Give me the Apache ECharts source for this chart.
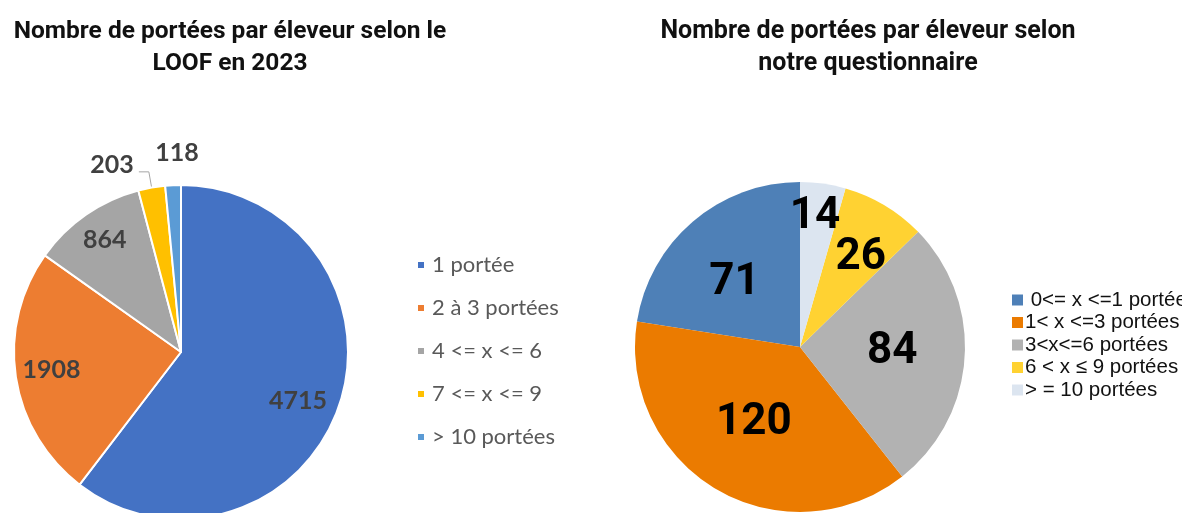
<!DOCTYPE html>
<html style="height: 100%">
<head>
    <meta charset="UTF-8">
    <title>Nombre de portées par éleveur</title>
</head>
<body style="height: 100%; margin: 0; background: #fff">
    <div id="container" style="width: 1182px; height: 513px"></div>

    <script src="https://cdn.jsdelivr.net/npm/echarts@6/dist/echarts.min.js"></script>
    <script type="text/javascript">
        // LOOF 2023
        var loofNames = ['1 portée', '2 à 3 portées', '4 <= x <= 6', '7 <= x <= 9', '> 10 portées'];
        var loofValues = [4715, 1908, 864, 203, 118];

        // questionnaire
        var questNames = [' 0<= x <=1 portée', '1< x <=3 portées', '3<x<=6 portées', '6 < x ≤ 9 portées', '> = 10 portées'];
        var questValues = [71, 120, 84, 26, 14];

        var loofColors = ['#4472C4', '#ED7D31', '#A5A5A5', '#FFC000', '#5B9BD5'];
        var questColors = ['#4E80B7', '#EB7B00', '#B2B2B2', '#FFD232', '#DCE5F0'];

        var dom = document.getElementById('container');
        var myChart = echarts.init(dom);

        // label tweaks (pixels, from the default inside spot)
        var loofLabel = [
            {offset: [35, 21]},
            {offset: [-44, 5]},
            {offset: [-27, -41]},
            {position: 'outside', offset: [0, -7]},
            {offset: [0, -113]}
        ];
        var questLabel = [
            {offset: [-10, 1]},
            {offset: [-3, 2]},
            {offset: [7, -1]},
            {offset: [17, -16]},
            {offset: [3, -45]}
        ];

        var loofData = loofNames.map(function (n, i) {
            var item = {name: n, value: loofValues[i], label: loofLabel[i]};
            if (i === 3) {
                item.labelLine = {show: true, length: 16, length2: 10, lineStyle: {color: '#A6A6A6', width: 1}};
            }
            return item;
        });
        var questData = questNames.map(function (n, i) {
            return {name: n, value: questValues[i], label: questLabel[i]};
        });

        function titleStyle(size) {
            return {fontFamily: 'Roboto', fontWeight: 'bold', fontSize: size, lineHeight: 32, color: '#111'};
        }

        var option = {
            animation: false,
            title: [
                {text: 'Nombre de portées par éleveur selon le\nLOOF en 2023', left: 225, top: 11, textAlign: 'center', textStyle: titleStyle(24.5)},
                {text: 'Nombre de portées par éleveur selon\nnotre questionnaire', left: 863, top: 11, textAlign: 'center', textStyle: titleStyle(25)}
            ],
            legend: [
                {
                    data: loofNames,
                    orient: 'vertical',
                    left: 411, top: 249,
                    icon: 'rect', itemWidth: 8, itemHeight: 8, itemGap: 21,
                    textStyle: {fontFamily: 'Lato', fontSize: 22, lineHeight: 22, color: '#595959', padding: [0, 0, 0, 2]}
                },
                {
                    data: questNames,
                    orient: 'vertical',
                    left: 1007, top: 284,
                    icon: 'rect', itemWidth: 11, itemHeight: 11, itemGap: 0.5,
                    textStyle: {fontFamily: 'Liberation Sans', fontSize: 20.5, lineHeight: 22, color: '#111', padding: [0, 0, 0, -3]}
                }
            ],
            series: [
                {
                    type: 'pie',
                    center: [181, 352],
                    radius: 167,
                    startAngle: 90,
                    clockwise: true,
                    avoidLabelOverlap: false,
                    labelLayout: {hideOverlap: false},
                    color: loofColors,
                    itemStyle: {borderColor: '#fff', borderWidth: 2},
                    label: {
                        show: true, position: 'inside',
                        formatter: '{c}',
                        fontFamily: 'Lato', fontWeight: 'bold', fontSize: 25, color: '#404040'
                    },
                    labelLine: {show: false},
                    data: loofData
                },
                {
                    type: 'pie',
                    center: [800, 347],
                    radius: 165,
                    startAngle: 90,
                    clockwise: false,
                    avoidLabelOverlap: false,
                    labelLayout: {hideOverlap: false},
                    color: questColors,
                    label: {
                        show: true, position: 'inside',
                        formatter: '{c}',
                        fontFamily: 'Roboto', fontWeight: 'bold', fontSize: 44, lineHeight: 34, color: '#000'
                    },
                    labelLine: {show: false},
                    data: questData
                }
            ]
        };

        myChart.setOption(option);
    </script>
</body>
</html>
